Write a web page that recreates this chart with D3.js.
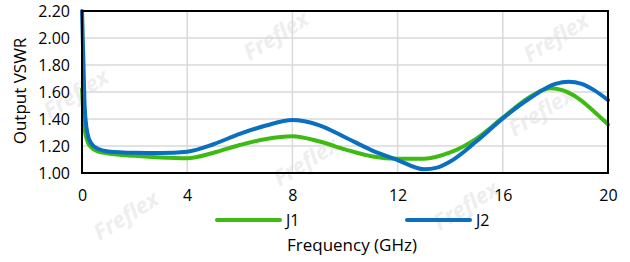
<!DOCTYPE html>
<html>
<head>
<meta charset="utf-8">
<script src="https://cdn.jsdelivr.net/npm/d3@7"></script>
<style>
	body { margin: 0; background: #fff; }
	text { font-family: "Open Sans", "Noto Sans", sans-serif; }
</style>
</head>
<body>
<svg id="chart" width="630" height="262"></svg>
<script>
"use strict";

// Chart data
const freqJ1 = [0, 0.05, 0.1, 0.2, 0.35, 0.6, 1, 2, 3, 4, 5, 6, 7, 8, 9, 10, 11, 12, 13, 14, 15, 16, 17, 17.8, 18.5, 19, 19.5, 20];
const vswrJ1 = [1.62, 1.45, 1.33, 1.24, 1.19, 1.16, 1.145, 1.127, 1.115, 1.11, 1.15, 1.207, 1.252, 1.272, 1.235, 1.175, 1.124, 1.105, 1.106, 1.152, 1.255, 1.41, 1.56, 1.627, 1.595, 1.535, 1.45, 1.36];

const freqJ2 = [0, 0.05, 0.1, 0.2, 0.35, 0.6, 1, 2, 3, 4, 5, 6, 7, 8, 9, 10, 11, 12, 13, 13.5, 14, 15, 16, 17, 18, 18.5, 19, 19.5, 20];
const vswrJ2 = [2.2, 1.85, 1.5, 1.3, 1.22, 1.18, 1.16, 1.15, 1.148, 1.158, 1.213, 1.29, 1.352, 1.392, 1.355, 1.265, 1.17, 1.096, 1.028, 1.04, 1.085, 1.235, 1.405, 1.55, 1.66, 1.676, 1.66, 1.61, 1.54];

const xTicks = [0, 4, 8, 12, 16, 20];
const yTicks = [1.0, 1.2, 1.4, 1.6, 1.8, 2.0, 2.2];

const series = [
	{name: "J1", color: "#3dbb12", x: freqJ1, y: vswrJ1},
	{name: "J2", color: "#0a6fc0", x: freqJ2, y: vswrJ2}
];

// Layout
const svg = d3.select("#chart");
const plot = {left: 82, right: 608, top: 11, bottom: 173};

const x = d3.scaleLinear().domain([0, 20]).range([plot.left, plot.right]);
const y = d3.scaleLinear().domain([1, 2.2]).range([plot.bottom, plot.top]);

// Watermarks
const marks = [[280, 42], [560, 44], [310, 168], [130, 222], [545, 118], [470, 212], [80, 100]];
svg.append("g")
	.selectAll("text")
	.data(marks)
	.enter()
	.append("text")
	.attr("transform", d => `translate(${d[0]},${d[1]}) rotate(-32)`)
	.attr("text-anchor", "middle")
	.style("font-size", "22px")
	.style("font-weight", "bold")
	.style("font-style", "italic")
	.style("fill", "#eeeeee")
	.text("Freflex");

// Gridlines
svg.append("g")
	.selectAll("line")
	.data(yTicks.slice(1, -1))
	.enter()
	.append("line")
	.attr("x1", plot.left).attr("x2", plot.right)
	.attr("y1", d => y(d)).attr("y2", d => y(d))
	.style("stroke", "#d9d9d9")
	.style("stroke-width", 1.5);

svg.append("g")
	.selectAll("line")
	.data(xTicks.slice(1, -1))
	.enter()
	.append("line")
	.attr("y1", plot.top).attr("y2", plot.bottom)
	.attr("x1", d => x(d)).attr("x2", d => x(d))
	.style("stroke", "#d9d9d9")
	.style("stroke-width", 1.5);

// Axes (labels only)
const yAxis = svg.append("g")
	.attr("transform", `translate(${plot.left},0)`)
	.call(d3.axisLeft(y).tickValues(yTicks).tickFormat(d3.format(".2f")).tickSize(0).tickPadding(12));
const xAxis = svg.append("g")
	.attr("transform", `translate(0,${plot.bottom})`)
	.call(d3.axisBottom(x).tickValues(xTicks).tickSize(0).tickPadding(17));
[xAxis, yAxis].forEach(a => {
	a.select(".domain").remove();
	a.selectAll("text").style("font-size", "16px").style("fill", "#000").style("font-family", "'Open Sans', sans-serif");
});

// Lines
const line = d3.line().curve(d3.curveMonotoneX);
svg.append("g")
	.selectAll("path")
	.data(series)
	.enter()
	.append("path")
	.attr("d", s => line(s.x.map((f, i) => [x(f), y(s.y[i])])))
	.style("fill", "none")
	.style("stroke", s => s.color)
	.style("stroke-width", 4)
	.style("stroke-linecap", "round")
	.style("stroke-linejoin", "round");

// Plot border
svg.append("rect")
	.attr("x", plot.left).attr("y", plot.top)
	.attr("width", plot.right - plot.left).attr("height", plot.bottom - plot.top)
	.style("fill", "none")
	.style("stroke", "#000")
	.style("stroke-width", 2);

// Legend
const legend = svg.append("g")
	.selectAll("g")
	.data(series)
	.enter()
	.append("g")
	.attr("transform", (d, i) => `translate(${217 + i * 190},220)`);
legend.append("line")
	.attr("x1", 0).attr("x2", 63)
	.style("stroke", d => d.color)
	.style("stroke-width", 4)
	.style("stroke-linecap", "round");
legend.append("text")
	.attr("x", 69).attr("dy", "0.35em")
	.style("font-size", "16px")
	.text(d => d.name);

// Axis titles
svg.append("text")
	.attr("x", 352).attr("y", 245).attr("dy", "0.35em")
	.attr("text-anchor", "middle")
	.style("font-size", "17px")
	.text("Frequency (GHz)");
svg.append("text")
	.attr("transform", "translate(20,91) rotate(-90)")
	.attr("dy", "0.35em")
	.attr("text-anchor", "middle")
	.style("font-size", "17px")
	.text("Output VSWR");
</script>
</body>
</html>
